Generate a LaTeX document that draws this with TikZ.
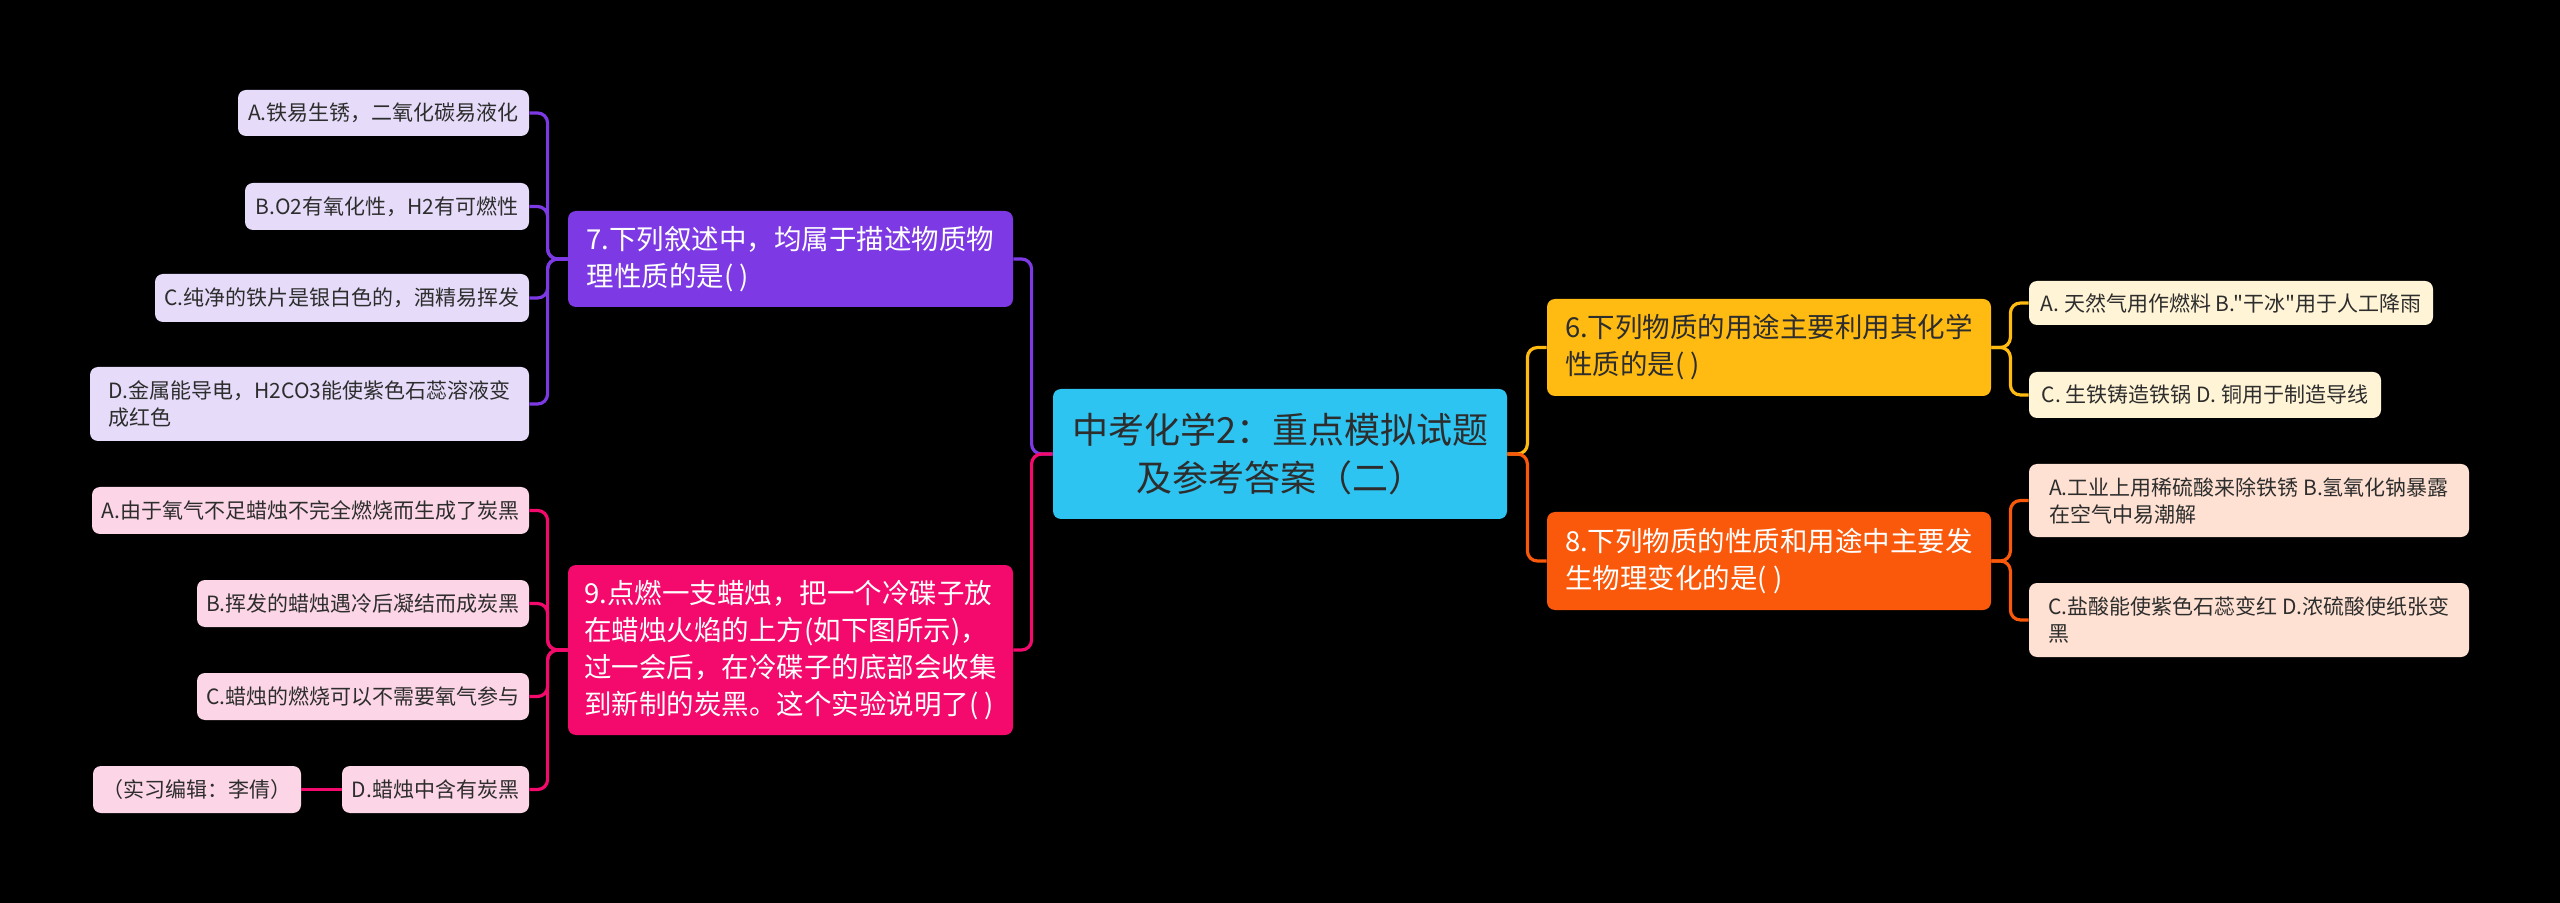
\documentclass[tikz,border=0pt]{standalone}
\usepackage{fontspec}
\setmainfont{Noto Sans CJK SC}[Ligatures=TeXOff]
\definecolor{rootc}{RGB}{46,196,242}
\definecolor{purp}{RGB}{125,58,228}
\definecolor{pinkc}{RGB}{243,10,108}
\definecolor{yel}{RGB}{255,187,17}
\definecolor{oran}{RGB}{250,88,10}
\definecolor{lpurp}{RGB}{230,220,250}
\definecolor{lpink}{RGB}{252,214,230}
\definecolor{lyel}{RGB}{255,244,214}
\definecolor{loran}{RGB}{254,225,210}
\definecolor{txt}{RGB}{45,45,45}
\begin{document}
\begin{tikzpicture}[x=0.5pt,y=-0.5pt,
  box/.style={rounded corners=4pt, align=left, inner sep=0pt, anchor=center},
  rootbox/.style={box, fill=rootc, text=txt, align=center, font=\fontsize{18pt}{24pt}\selectfont},
  qbox/.style={box, font=\fontsize{13.75pt}{18.5pt}\selectfont},
  leaf/.style={box, text=txt, font=\fontsize{10.5pt}{13.5pt}\selectfont},
  link/.style={line width=1.6pt, rounded corners=5pt}]
\fill[black] (0,0) rectangle (2560,903);
\useasboundingbox (0,0) rectangle (2560,903);

% main nodes
\node[rootbox, minimum width=227pt, minimum height=65pt] (root) at (1280,454) {中考化学2：重点模拟试题\\及参考答案（二）};
\node[qbox, fill=purp, text=white, minimum width=222.5pt, minimum height=48pt] (n7) at (790.5,259) {7.下列叙述中，均属于描述物质物\\理性质的是( )};
\node[qbox, fill=pinkc, text=white, minimum width=222.5pt, minimum height=85pt] (n9) at (790.5,650) {9.点燃一支蜡烛，把一个冷碟子放\\在蜡烛火焰的上方(如下图所示)，\\过一会后，在冷碟子的底部会收集\\到新制的炭黑。这个实验说明了( )};
\node[qbox, fill=yel, text=txt, minimum width=222pt, minimum height=48.5pt] (n6) at (1769,347.5) {6.下列物质的用途主要利用其化学\\性质的是( )};
\node[qbox, fill=oran, text=white, minimum width=222pt, minimum height=49pt] (n8) at (1769,561) {8.下列物质的性质和用途中主要发\\生物理变化的是( )};

% leaves of 7
\node[leaf, fill=lpurp, minimum width=145.5pt, minimum height=23pt] (a7) at (383.5,113) {A.铁易生锈，二氧化碳易液化};
\node[leaf, fill=lpurp, minimum width=142pt, minimum height=23.5pt] (b7) at (387,206.5) {B.O2有氧化性，H2有可燃性};
\node[leaf, fill=lpurp, minimum width=187pt, minimum height=24pt] (c7) at (342,298) {C.纯净的铁片是银白色的，酒精易挥发};
\node[leaf, fill=lpurp, minimum width=219.5pt, minimum height=37pt] (d7) at (309.5,404) {D.金属能导电，H2CO3能使紫色石蕊溶液变\\成红色};

% leaves of 9
\node[leaf, fill=lpink, minimum width=218.5pt, minimum height=23.5pt] (a9) at (310.5,510.5) {A.由于氧气不足蜡烛不完全燃烧而生成了炭黑};
\node[leaf, fill=lpink, minimum width=166pt, minimum height=23.5pt] (b9) at (363,603.5) {B.挥发的蜡烛遇冷后凝结而成炭黑};
\node[leaf, fill=lpink, minimum width=166pt, minimum height=23.5pt] (c9) at (363,696.5) {C.蜡烛的燃烧可以不需要氧气参与};
\node[leaf, fill=lpink, minimum width=93.5pt, minimum height=23.5pt] (d9) at (435.5,789.5) {D.蜡烛中含有炭黑};
\node[leaf, fill=lpink, minimum width=104pt, minimum height=23.5pt] (note) at (197,789.5) {（实习编辑：李倩）};

% leaves of 6
\node[leaf, fill=lyel, minimum width=202pt, minimum height=22pt] (a6) at (2231,303) {A. 天然气用作燃料 B."干冰"用于人工降雨};
\node[leaf, fill=lyel, minimum width=176pt, minimum height=23pt] (c6) at (2205,395) {C. 生铁铸造铁锅 D. 铜用于制造导线};

% leaves of 8
\node[leaf, fill=loran, minimum width=220pt, minimum height=36.5pt] (a8) at (2249,500.5) {A.工业上用稀硫酸来除铁锈 B.氢氧化钠暴露\\在空气中易潮解};
\node[leaf, fill=loran, minimum width=220pt, minimum height=37pt] (c8) at (2249,620) {C.盐酸能使紫色石蕊变红 D.浓硫酸使纸张变\\黑};

% connectors root
\draw[link, purp] (root.west) -- ++(-21,0) |- (n7.east);
\draw[link, pinkc] (root.west) -- ++(-21,0) |- (n9.east);
\draw[link, yel] (root.east) -- ++(20,0) |- (n6.west);
\draw[link, oran] (root.east) -- ++(20,0) |- (n8.west);

% connectors 7
\foreach \t in {a7,b7,c7,d7}
  \draw[link, purp] (n7.west) -- ++(-20,0) |- (\t.east);
% connectors 9
\foreach \t in {a9,b9,c9,d9}
  \draw[link, pinkc] (n9.west) -- ++(-20,0) |- (\t.east);
\draw[link, pinkc] (d9.west) -- (note.east);
% connectors 6
\foreach \t in {a6,c6}
  \draw[link, yel] (n6.east) -- ++(19,0) |- (\t.west);
% connectors 8
\foreach \t in {a8,c8}
  \draw[link, oran] (n8.east) -- ++(19,0) |- (\t.west);
\end{tikzpicture}
\end{document}
